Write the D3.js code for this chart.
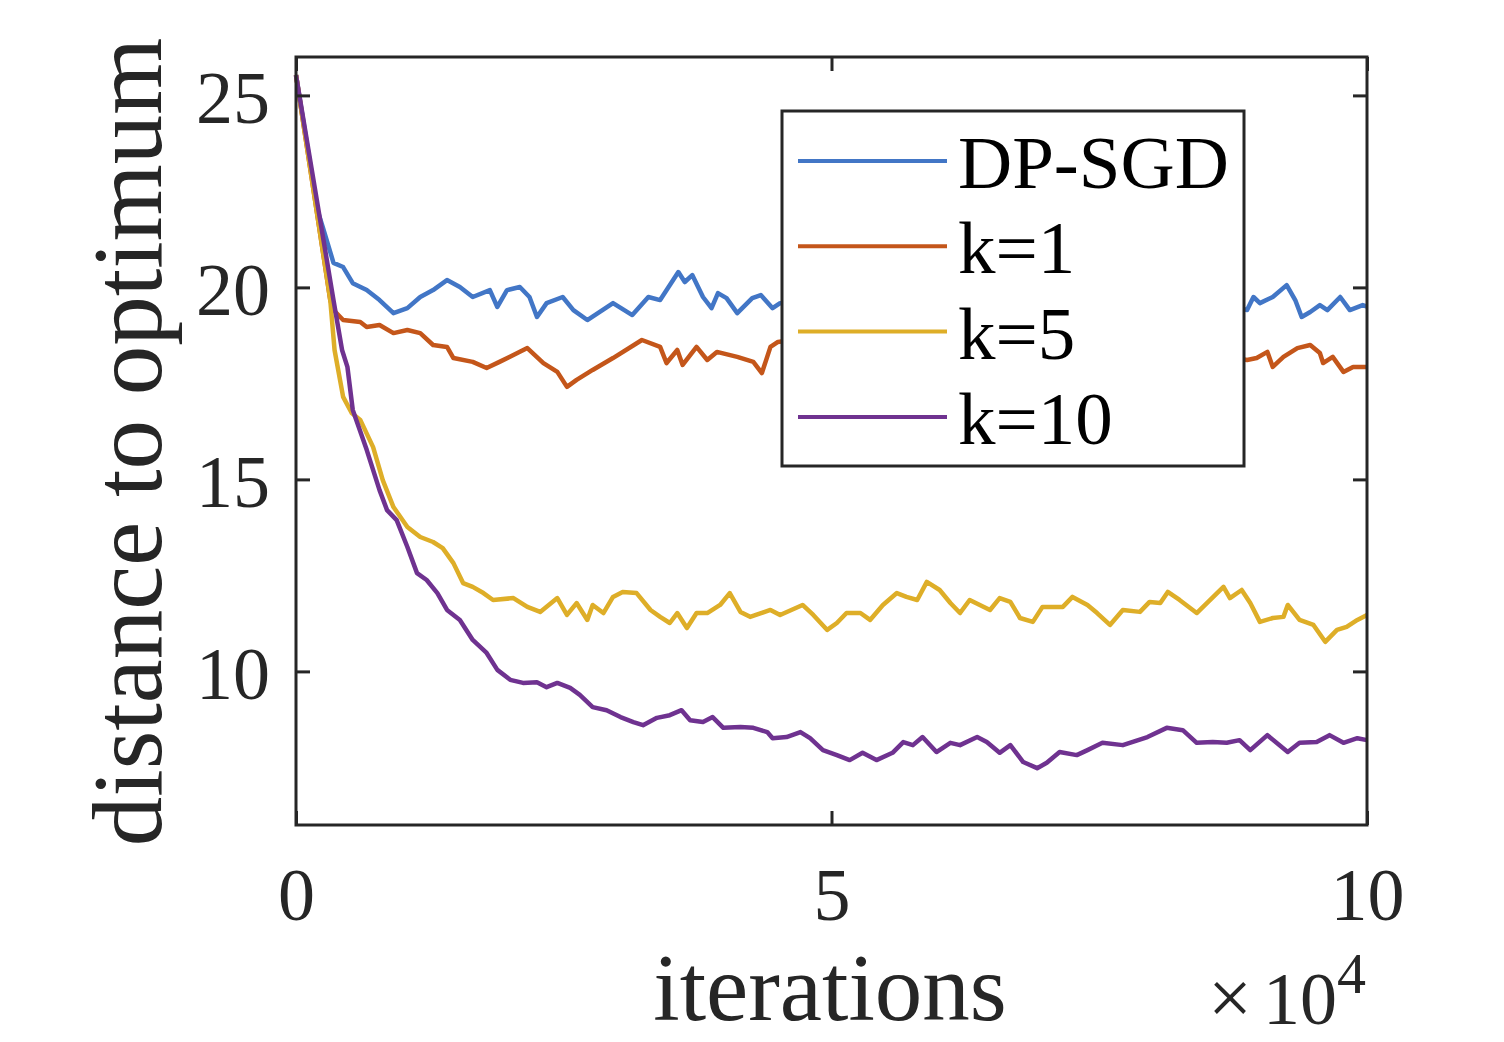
<!DOCTYPE html>
<html><head><meta charset="utf-8">
<script src="https://cdn.jsdelivr.net/npm/d3@7"></script>
<style>html,body{margin:0;padding:0;background:#fff;}svg{display:block;}</style>
</head><body>
<svg id="chart" width="1504" height="1042"></svg>
<script>
// ---- data (iterations in units of 10^4) ----
const seriesNames = ["DP-SGD", "k=1", "k=5", "k=10"];
const seriesColors = ["#4276C6", "#C4561A", "#DEAE28", "#6F3290"];
const xTicks = [0, 5, 10];
const yTicks = [10, 15, 20, 25];

const dpsgdX = [0,0.20,0.25,0.35,0.44,0.53,0.66,0.78,0.91,1.04,1.16,1.28,1.41,1.53,1.65,1.81,1.88,1.97,2.09,2.18,2.25,2.34,2.49,2.59,2.72,2.96,3.14,3.29,3.40,3.57,3.63,3.70,3.80,3.88,3.94,4.02,4.12,4.26,4.34,4.45,4.52,4.8,5.2,5.6,6.0,6.5,7.0,7.5,8.0,8.5,8.88,8.94,9.00,9.12,9.25,9.33,9.39,9.47,9.56,9.63,9.75,9.84,9.96,10.0];
const dpsgdY = [25.53,22.02,21.57,20.64,20.53,20.11,19.93,19.67,19.33,19.46,19.75,19.93,20.19,20.01,19.75,19.93,19.49,19.93,20.01,19.75,19.23,19.59,19.75,19.41,19.15,19.59,19.28,19.75,19.67,20.40,20.14,20.32,19.75,19.46,19.85,19.72,19.33,19.72,19.80,19.46,19.59,19.6,19.9,19.5,19.7,19.9,19.6,19.8,19.5,19.7,19.41,19.75,19.59,19.75,20.06,19.67,19.23,19.36,19.54,19.41,19.75,19.41,19.54,19.50];

const k1X = [0,0.32,0.35,0.44,0.60,0.66,0.78,0.91,1.04,1.16,1.28,1.41,1.47,1.65,1.78,1.90,2.03,2.16,2.31,2.44,2.53,2.62,2.77,2.96,3.23,3.40,3.46,3.56,3.61,3.74,3.84,3.93,4.12,4.27,4.35,4.43,4.50,4.8,5.2,5.6,6.0,6.5,7.0,7.5,8.0,8.5,8.88,8.97,9.07,9.12,9.22,9.35,9.47,9.56,9.59,9.68,9.78,9.87,10.0];
const k1Y = [25.53,19.67,19.41,19.15,19.10,18.97,19.02,18.81,18.89,18.81,18.50,18.45,18.16,18.06,17.90,18.06,18.24,18.42,18.03,17.80,17.41,17.59,17.85,18.16,18.63,18.45,18.03,18.37,17.98,18.45,18.11,18.32,18.19,18.06,17.77,18.45,18.58,18.7,18.4,18.6,18.3,18.5,18.2,18.4,18.1,18.3,18.11,18.16,18.32,17.93,18.19,18.42,18.50,18.29,18.03,18.19,17.80,17.93,17.93];

const k5X = [0,0.32,0.36,0.44,0.52,0.60,0.72,0.81,0.91,1.04,1.16,1.28,1.37,1.47,1.56,1.65,1.75,1.84,2.03,2.16,2.28,2.44,2.53,2.62,2.72,2.77,2.87,2.96,3.05,3.18,3.31,3.40,3.49,3.56,3.65,3.74,3.84,3.96,4.05,4.15,4.24,4.43,4.52,4.73,4.83,4.96,5.05,5.14,5.27,5.36,5.48,5.61,5.70,5.80,5.89,6.01,6.11,6.20,6.29,6.48,6.57,6.67,6.76,6.88,6.97,7.16,7.25,7.39,7.48,7.60,7.72,7.88,7.97,8.07,8.14,8.25,8.41,8.60,8.66,8.72,8.83,8.91,9.00,9.12,9.22,9.26,9.37,9.50,9.61,9.72,9.81,9.91,10.0];
const k5Y = [25.53,19.67,18.37,17.15,16.73,16.55,15.84,14.98,14.28,13.76,13.50,13.37,13.21,12.82,12.30,12.20,12.04,11.86,11.91,11.68,11.55,11.91,11.47,11.78,11.34,11.73,11.52,11.94,12.07,12.04,11.60,11.42,11.26,11.52,11.13,11.52,11.52,11.73,12.04,11.55,11.42,11.60,11.47,11.73,11.47,11.08,11.26,11.52,11.52,11.34,11.73,12.04,11.94,11.86,12.33,12.12,11.78,11.52,11.86,11.60,11.91,11.81,11.39,11.29,11.68,11.68,11.94,11.73,11.52,11.21,11.60,11.55,11.81,11.78,12.07,11.86,11.52,12.04,12.20,11.91,12.12,11.78,11.29,11.39,11.42,11.73,11.34,11.21,10.77,11.08,11.16,11.34,11.47];

const k10X = [0,0.35,0.43,0.48,0.53,0.66,0.78,0.85,0.94,1.04,1.13,1.22,1.32,1.41,1.53,1.65,1.78,1.88,2.00,2.12,2.25,2.34,2.44,2.56,2.65,2.77,2.90,3.03,3.15,3.24,3.37,3.49,3.60,3.68,3.80,3.89,3.99,4.15,4.27,4.40,4.45,4.58,4.71,4.80,4.92,5.05,5.17,5.29,5.42,5.57,5.67,5.76,5.85,5.98,6.11,6.20,6.36,6.45,6.57,6.67,6.79,6.92,7.01,7.13,7.29,7.39,7.53,7.72,7.95,8.13,8.28,8.41,8.56,8.69,8.81,8.91,9.07,9.26,9.37,9.53,9.65,9.78,9.91,10.0];
const k10Y = [25.53,19.67,18.37,17.93,16.81,15.77,14.72,14.20,13.94,13.24,12.56,12.38,12.04,11.60,11.34,10.82,10.48,10.04,9.78,9.70,9.72,9.59,9.70,9.57,9.39,9.07,8.99,8.81,8.68,8.60,8.79,8.86,8.99,8.73,8.68,8.81,8.53,8.55,8.53,8.42,8.26,8.29,8.42,8.26,7.95,7.82,7.69,7.88,7.69,7.88,8.16,8.08,8.29,7.90,8.14,8.08,8.29,8.16,7.88,8.08,7.64,7.48,7.62,7.90,7.82,7.95,8.14,8.08,8.29,8.53,8.47,8.14,8.16,8.14,8.21,7.95,8.34,7.90,8.14,8.16,8.34,8.14,8.26,8.21];

const allX = [dpsgdX, k1X, k5X, k10X];
const allY = [dpsgdY, k1Y, k5Y, k10Y];

// ---- layout ----
const svg = d3.select("#chart");
const L = 296, R = 1367, T = 57, B = 825;
const x = d3.scaleLinear().domain([0, 10]).range([L, R]);
const y = d3.scaleLinear().domain([6, 26]).range([B, T]);
const ink = "#262626";
const serif = "'Liberation Serif','Times New Roman',serif";

// lines
const line = d3.line().x(d => x(d[0])).y(d => y(d[1]));
const g = svg.append("g");
allX.forEach((xs, i) => {
  const pts = xs.map((v, j) => [v, allY[i][j]]);
  g.append("path").datum(pts).attr("d", line)
    .attr("fill", "none").attr("stroke", seriesColors[i])
    .attr("stroke-width", 4.5).attr("stroke-linejoin", "round");
});

// axes (ticks inward, on all four sides)
const tickLen = 14;
const axB = svg.append("g").attr("transform", `translate(0,${B})`)
  .call(d3.axisBottom(x).tickValues(xTicks).tickSize(-tickLen).tickFormat(d3.format("d")));
const axT = svg.append("g").attr("transform", `translate(0,${T})`)
  .call(d3.axisTop(x).tickValues(xTicks).tickSize(-tickLen).tickFormat(""));
const axL = svg.append("g").attr("transform", `translate(${L},0)`)
  .call(d3.axisLeft(y).tickValues(yTicks).tickSize(-tickLen).tickPadding(26).tickFormat(d3.format("d")));
const axR = svg.append("g").attr("transform", `translate(${R},0)`)
  .call(d3.axisRight(y).tickValues(yTicks).tickSize(-tickLen).tickFormat(""));
[axB, axT, axL, axR].forEach(a => {
  a.select(".domain").remove();
  a.selectAll(".tick line").attr("stroke", ink).attr("stroke-width", 3);
  a.selectAll(".tick text").attr("fill", ink).attr("font-family", serif).attr("font-size", 74);
});
axB.selectAll(".tick text").attr("dy", null).attr("y", 95);
axL.selectAll(".tick text").attr("dy", null).attr("y", 27);

// frame
svg.append("rect").attr("x", L).attr("y", T).attr("width", R - L).attr("height", B - T)
  .attr("fill", "none").attr("stroke", ink).attr("stroke-width", 3);

// axis labels
svg.append("text").attr("x", 830).attr("y", 1020).attr("text-anchor", "middle")
  .attr("font-family", serif).attr("font-size", 95).attr("fill", ink).text("iterations");
svg.append("text").attr("transform", "translate(161,442) rotate(-90)").attr("text-anchor", "middle")
  .attr("font-family", serif).attr("font-size", 99).attr("fill", ink).text("distance to optimum");
svg.append("text").attr("x", 1252).attr("y", 1024).attr("text-anchor", "end")
  .attr("font-family", serif).attr("font-size", 78).attr("fill", ink).text("\u00D7");
svg.append("text").attr("x", 1337).attr("y", 1024).attr("text-anchor", "end")
  .attr("font-family", serif).attr("font-size", 74).attr("fill", ink).text("10");
svg.append("text").attr("x", 1337).attr("y", 993).attr("font-family", serif)
  .attr("font-size", 58).attr("fill", ink).text("4");

// legend
const lg = svg.append("g");
lg.append("rect").attr("x", 782).attr("y", 111).attr("width", 462).attr("height", 355)
  .attr("fill", "#fff").attr("stroke", ink).attr("stroke-width", 3);
seriesNames.forEach((name, i) => {
  const ly = 161 + i * 85.3;
  lg.append("line").attr("x1", 798).attr("x2", 947).attr("y1", ly).attr("y2", ly)
    .attr("stroke", seriesColors[i]).attr("stroke-width", 4);
  lg.append("text").attr("x", 958).attr("y", ly + 27).attr("font-family", serif)
    .attr("font-size", 75).attr("fill", "#000").text(name);
});
</script>
</body></html>
